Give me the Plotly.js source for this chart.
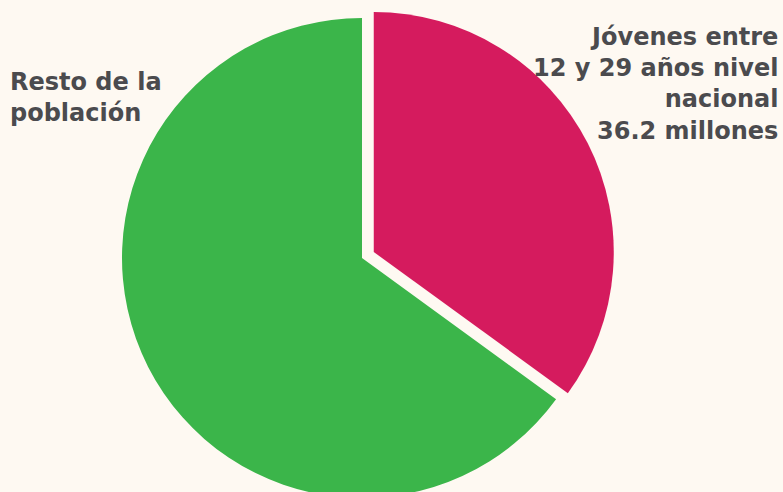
<!DOCTYPE html>
<html>
<head>
<meta charset="utf-8">
<script src="https://cdn.plot.ly/plotly-3.0.1.min.js"></script>
<style>
html,body{margin:0;padding:0;background:#FEF9F2;overflow:hidden;}
#chart{width:783px;height:512px;}
</style>
</head>
<body>
<div id="chart"></div>
<script>
// Data
const categories = ["Jóvenes entre 12 y 29 años nivel nacional", "Resto de la población"];
const values = [36.2, 67.2]; // millones (resto)
const labelTexts = ["Jóvenes entre<br>12 y 29 años nivel<br>nacional<br>36.2 millones", "Resto de la<br>población"];
const colors = ["#D51B5E", "#3BB54A"];

const W = 783, H = 512;
const cx = 362, cy = 258, R = 240, pull = 0.055;
const box = 2 * R * (1 + pull);
const domX = [(cx - box / 2) / W, (cx + box / 2) / W];
const domY = [1 - (cy + box / 2) / H, 1 - (cy - box / 2) / H];

const trace = {
  type: "pie",
  labels: categories,
  values: values,
  sort: false,
  direction: "clockwise",
  rotation: 0,
  pull: [pull, 0],
  marker: {colors: colors, line: {width: 0}},
  textinfo: "none",
  hoverinfo: "label+value",
  showlegend: false,
  domain: {x: domX, y: [Math.max(0, domY[0]), Math.min(1, domY[1])]}
};

const font = {family: "DejaVu Sans, Open Sans, sans-serif", size: 24, color: "#4B4B4E", weight: 700};

const layout = {
  width: W, height: H,
  margin: {l: 0, r: 0, t: 0, b: 0},
  paper_bgcolor: "#FEF9F2",
  plot_bgcolor: "#FEF9F2",
  showlegend: false,
  annotations: [
    {text: "<b>" + labelTexts[0] + "</b>", xref: "paper", yref: "paper",
     x: 780 / W, y: 1 - 21 / H, xanchor: "right", yanchor: "top", align: "right",
     showarrow: false, font: font},
    {text: "<b>" + labelTexts[1] + "</b>", xref: "paper", yref: "paper",
     x: 8 / W, y: 1 - 66 / H, xanchor: "left", yanchor: "top", align: "left",
     showarrow: false, font: font}
  ]
};

Plotly.newPlot("chart", [trace], layout, {displayModeBar: false, staticPlot: true});
</script>
</body>
</html>
